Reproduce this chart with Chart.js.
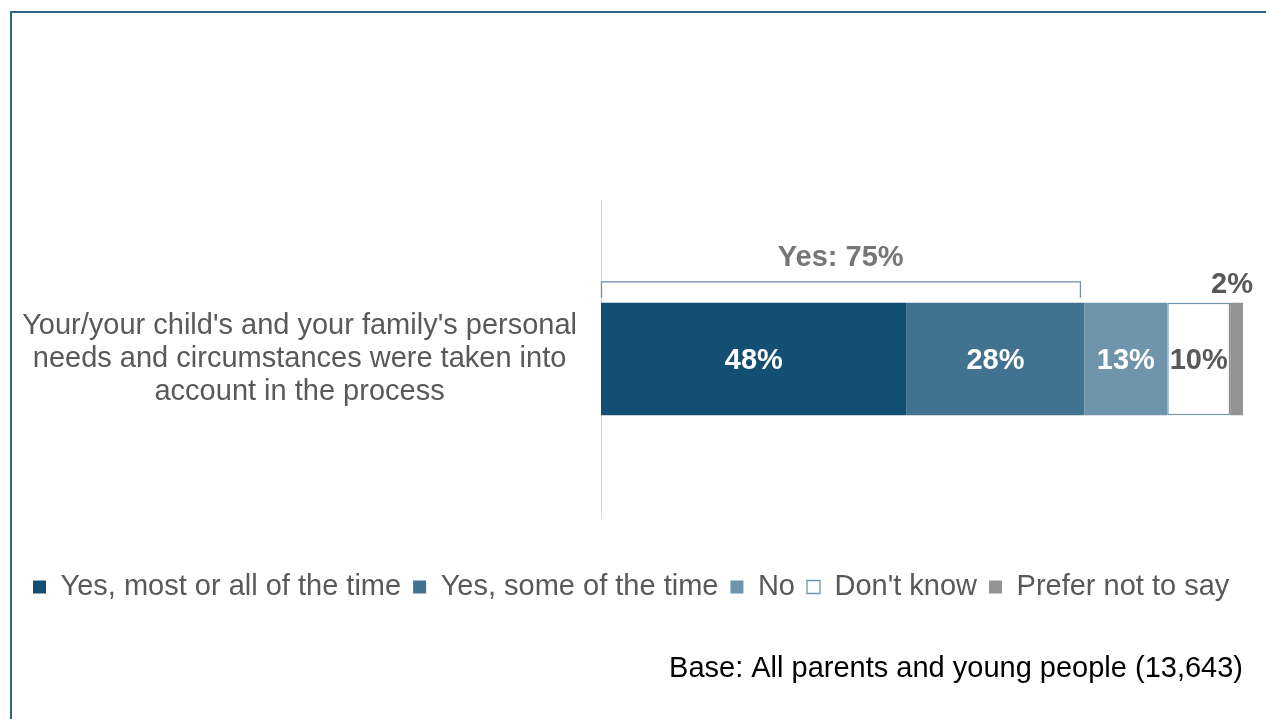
<!DOCTYPE html>
<html>
<head>
<meta charset="utf-8">
<script src="https://cdn.jsdelivr.net/npm/chart.js@4"></script>
<style>
  html, body { margin: 0; padding: 0; background: #ffffff; }
  #frame { position: absolute; left: 10px; top: 11px; width: 1300px; height: 800px;
           border-top: 2px solid #2a6489; border-left: 2px solid #2a6489; }
  #wrap { position: absolute; left: 0; top: 0; width: 1266px; height: 719px; }
</style>
</head>
<body>
<div id="frame"></div>
<div id="wrap"><canvas id="c" width="1266" height="719"></canvas></div>
<script>
const categories = [["Your/your child's and your family's personal", "needs and circumstances were taken into", "account in the process"]];
const seriesNames = ["Yes, most or all of the time", "Yes, some of the time", "No", "Don't know", "Prefer not to say"];
const seriesValues = [47.6, 27.7, 12.9, 9.8, 2.0];
const valueLabels = ["48%", "28%", "13%", "10%", "2%"];
const bracketLabel = "Yes: 75%";
const bracketSeries = [0, 1];
const baseNote = "Base: All parents and young people (13,643)";

const fills = ["#124f73", "#41728f", "#6f95ad", "#ffffff", "#939393"];
const borders = ["#124f73", "#41728f", "#6f95ad", "#6f95ad", "#939393"];
const labelColors = ["#ffffff", "#ffffff", "#ffffff", "#595959", "#595959"];
const FONT = "'Liberation Sans', Arial, sans-serif";

const datasets = seriesNames.map((name, i) => ({
  label: name,
  data: [seriesValues[i]],
  backgroundColor: fills[i],
  borderColor: borders[i],
  borderWidth: i === 3 ? 1.5 : 0,
  borderSkipped: false,
  barPercentage: 1,
  categoryPercentage: 0.353
}));

const labelPlugin = {
  id: 'barLabels',
  afterDatasetsDraw(chart) {
    const ctx = chart.ctx;
    ctx.save();
    ctx.font = "bold 29px " + FONT;
    ctx.textAlign = 'center';
    ctx.textBaseline = 'middle';
    chart.data.datasets.forEach((ds, i) => {
      const el = chart.getDatasetMeta(i).data[0];
      if (!el) return;
      const left = Math.min(el.x, el.base), right = Math.max(el.x, el.base);
      const cx = (left + right) / 2;
      ctx.fillStyle = labelColors[i];
      if (i === seriesValues.length - 1) {
        ctx.fillText(valueLabels[i], right - 11, el.y - el.height / 2 - 18);
      } else {
        ctx.fillText(valueLabels[i], cx, el.y + 2);
      }
    });
    // bracket
    const e0 = chart.getDatasetMeta(bracketSeries[0]).data[0];
    const e1 = chart.getDatasetMeta(bracketSeries[bracketSeries.length - 1]).data[0];
    const x0 = Math.min(e0.base, e0.x);
    const x1 = Math.max(e1.base, e1.x) - 4;
    const top = e0.y - e0.height / 2;
    const by = top - 21;
    ctx.strokeStyle = '#6d8fae';
    ctx.lineWidth = 1.3;
    ctx.beginPath();
    ctx.moveTo(x0 + 0.5, top - 5);
    ctx.lineTo(x0 + 0.5, by);
    ctx.lineTo(x1, by);
    ctx.lineTo(x1, top - 5);
    ctx.stroke();
    ctx.fillStyle = '#767676';
    ctx.fillText(bracketLabel, (x0 + x1) / 2, by - 24);
    ctx.restore();
  }
};

new Chart(document.getElementById('c'), {
  type: 'bar',
  data: { labels: categories, datasets: datasets },
  options: {
    indexAxis: 'y',
    responsive: false,
    animation: false,
    layout: { padding: { left: 21, right: 23, top: 200, bottom: 10 } },
    scales: {
      x: {
        stacked: true, min: 0, max: 100,
        display: true,
        grid: { display: false, drawTicks: false },
        border: { display: false },
        ticks: { display: false },
        afterFit(scale) { scale.height = 42.5; }
      },
      y: {
        stacked: true,
        grid: { display: false, drawTicks: false },
        border: { display: true, color: '#d9d9d9', width: 1 },
        ticks: {
          crossAlign: 'center',
          padding: 24,
          color: '#595959',
          font: { family: FONT, size: 29, lineHeight: 1.138 }
        },
        afterFit(scale) { scale.width = 601 - 21; }
      }
    },
    plugins: {
      legend: {
        position: 'bottom',
        align: 'start',
        labels: {
          boxWidth: 13, boxHeight: 13, padding: 12,
          color: '#595959',
          font: { family: FONT, size: 29 },
          generateLabels(chart) {
            return chart.data.datasets.map((ds, i) => ({
              text: ds.label,
              fillStyle: fills[i],
              strokeStyle: borders[i],
              lineWidth: i === 3 ? 1.3 : 0,
              hidden: false,
              datasetIndex: i,
              fontColor: '#595959'
            }));
          }
        }
      },
      subtitle: {
        display: true,
        text: baseNote,
        position: 'bottom',
        align: 'end',
        color: '#000000',
        font: { family: FONT, size: 29, weight: 'normal' },
        padding: { top: 40.1, bottom: 22.6 }
      },
      tooltip: { enabled: false }
    }
  },
  plugins: [labelPlugin]
});
</script>
</body>
</html>
